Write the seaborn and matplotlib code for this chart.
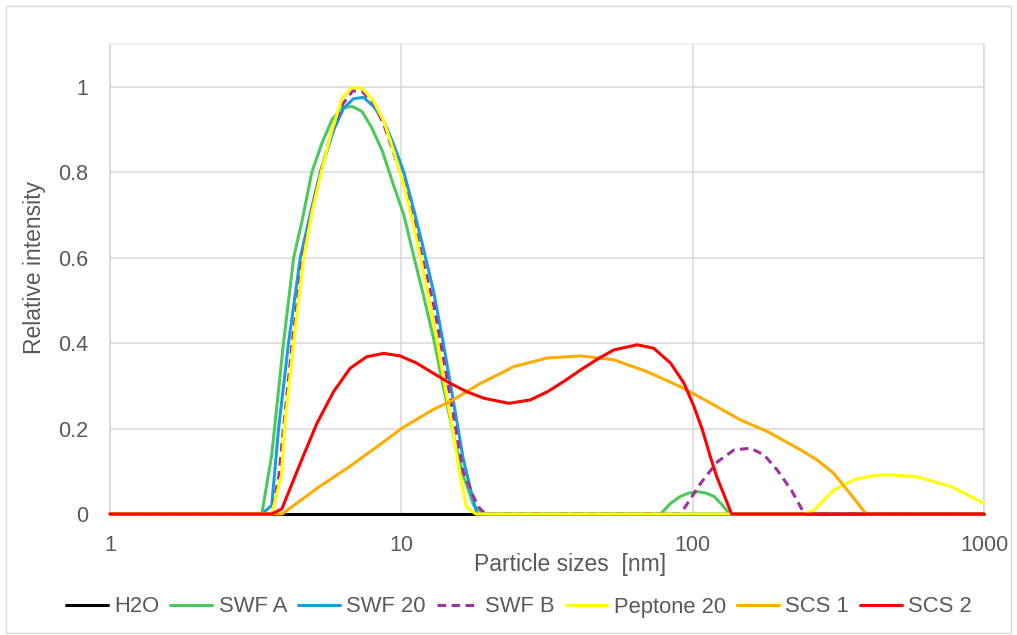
import numpy as np
import pandas as pd
import matplotlib
matplotlib.use("Agg")
import matplotlib.pyplot as plt
from matplotlib.colors import to_hex
from matplotlib.patches import Rectangle
import seaborn as sns

# Intensity-weighted size distributions (size in nm, intensity normalised)
h2o_size = [1, 1000]
h2o_int = [0, 0]

swf_a_size = [1, 3.32, 3.59, 3.94, 4.27, 4.56, 4.93, 5.34, 5.78, 6.26, 6.77, 7.33,
              7.9, 8.6, 9.4, 10.2, 11.0, 11.9, 12.9, 13.9, 15.1, 16.3, 17.7, 19.2,
              77.6, 84, 90.7, 97, 104, 111, 118.5, 126, 134, 1000]
swf_a_int = [0, 0, 0.138, 0.40, 0.60, 0.685, 0.80, 0.868, 0.923, 0.950, 0.954, 0.942,
             0.905, 0.85, 0.77, 0.70, 0.607, 0.513, 0.411, 0.302, 0.185, 0.091, 0.021, 0,
             0, 0.025, 0.041, 0.049, 0.052, 0.049, 0.041, 0.022, 0, 0]

swf_20_size = [1, 3.32, 3.59, 3.79, 4.10, 4.50, 4.90, 5.27, 5.86, 6.34, 6.85, 7.42,
               8.03, 8.72, 9.42, 10.2, 11.0, 11.9, 12.9, 13.9, 15.1, 16.3, 17.7, 18.2, 1000]
swf_20_int = [0, 0, 0.02, 0.20, 0.40, 0.60, 0.71, 0.80, 0.899, 0.950, 0.972, 0.975,
              0.954, 0.919, 0.864, 0.800, 0.716, 0.622, 0.521, 0.404, 0.263, 0.130, 0.029, 0, 0]

swf_b_size = [1, 3.59, 3.80, 3.94, 4.22, 4.58, 4.93, 5.29, 5.80, 6.30, 6.80, 7.30,
              8.03, 8.72, 9.42, 10.2, 11.0, 11.9, 12.9, 13.9, 15.1, 16.3, 17.7, 18.5, 19.4,
              90, 93.5, 106.5, 121.5, 138.7, 158, 176, 195, 218, 242, 1000]
swf_b_int = [0, 0, 0.09, 0.20, 0.40, 0.60, 0.71, 0.80, 0.90, 0.96, 0.99, 0.99,
             0.962, 0.91, 0.845, 0.775, 0.69, 0.59, 0.49, 0.37, 0.23, 0.10, 0.04, 0.015, 0,
             0, 0.013, 0.072, 0.122, 0.150, 0.154, 0.138, 0.103, 0.056, 0, 0]

peptone_size = [1, 3.59, 3.88, 3.97, 4.27, 4.62, 4.95, 5.31, 5.78, 6.26, 6.77, 7.33,
                8.03, 8.72, 9.42, 10.2, 11.0, 11.9, 12.9, 13.9, 15.1, 15.9, 16.7, 18.0,
                242, 261, 305, 357, 418, 478, 590, 772, 1000]
peptone_int = [0, 0, 0.09, 0.20, 0.40, 0.60, 0.71, 0.80, 0.898, 0.973, 0.998, 0.997,
               0.966, 0.919, 0.849, 0.770, 0.677, 0.567, 0.450, 0.326, 0.185, 0.091, 0.017, 0,
               0, 0.009, 0.056, 0.080, 0.090, 0.092, 0.087, 0.064, 0.025]

scs_1_size = [1, 3.9, 5.13, 6.67, 8.7, 10, 12.9, 14.7, 18.7, 21.9, 24.3, 31.6, 41.2,
              53.6, 69.8, 90.7, 118.5, 146, 180.6, 235, 268, 305, 347, 394, 1000]
scs_1_int = [0, 0, 0.06, 0.112, 0.169, 0.200, 0.245, 0.263, 0.306, 0.329, 0.345, 0.365, 0.370,
             0.361, 0.333, 0.298, 0.255, 0.220, 0.193, 0.150, 0.126, 0.095, 0.048, 0, 0]

scs_2_size = [1, 3.59, 3.89, 4.5, 5.13, 5.85, 6.67, 7.6, 8.7, 9.9, 11.3, 12.9, 14.7,
              16.8, 19.2, 23.4, 27.7, 31.7, 36.1, 41.2, 47, 53.6, 64.5, 73.5, 84, 93.4,
              101.1, 108, 115, 121, 127.6, 136, 1000]
scs_2_int = [0, 0, 0.012, 0.119, 0.212, 0.286, 0.341, 0.368, 0.376, 0.370, 0.353, 0.329, 0.306,
             0.286, 0.271, 0.259, 0.267, 0.286, 0.310, 0.337, 0.362, 0.384, 0.396, 0.388, 0.353, 0.306,
             0.251, 0.197, 0.134, 0.087, 0.048, 0, 0]

samples = ["H2O", "SWF A", "SWF 20", "SWF B", "Peptone 20", "SCS 1", "SCS 2"]
series = [(h2o_size, h2o_int), (swf_a_size, swf_a_int), (swf_20_size, swf_20_int),
          (swf_b_size, swf_b_int), (peptone_size, peptone_int),
          (scs_1_size, scs_1_int), (scs_2_size, scs_2_int)]

colors = ["#000000", "#4cc95a", "#1a9ddd", "#a0329f", "#ffff00", "#ffab00", "#ff0000"]
x_ticks = [1, 10, 100, 1000]
y_ticks = [0, 0.2, 0.4, 0.6, 0.8, 1.0]

frames = [pd.DataFrame({"size": s, "intensity": v, "sample": name})
          for name, (s, v) in zip(samples, series)]
df = pd.concat(frames, ignore_index=True)

sns.set_style("white")
plt.rcParams["font.family"] = ["Liberation Sans", "DejaVu Sans"]

fig = plt.figure(figsize=(10.17, 6.35), dpi=100)
ax = fig.add_axes([110 / 1017, 1 - 514 / 635, 874 / 1017, 470 / 635])

grid_c = "#d9d9d9"
ax.set_xscale("log")
ax.set_xlim(1, 1000)
ax.set_ylim(0, 1.1)
for t in x_ticks[1:]:
    ax.axvline(t, color=grid_c, lw=1.1, zorder=0)
for t in y_ticks[1:]:
    ax.axhline(t, color=grid_c, lw=1.1, zorder=0)

palette = dict(zip(samples, colors))
dashes = {name: "" for name in samples}
dashes["SWF B"] = (2.8, 1.8)

sns.lineplot(data=df, x="size", y="intensity", hue="sample", style="sample",
             hue_order=samples, style_order=samples, palette=palette, dashes=dashes,
             linewidth=2.2, errorbar=None, sort=True, ax=ax)

# later samples sit on top of earlier ones; the zero baseline is drawn in full
for ln in ax.lines:
    c = to_hex(ln.get_color())
    if c in colors and ln.get_zorder() != 0:
        ln.set_zorder(3 + colors.index(c))
        ln.set_clip_on(False)

ax.set_xticks(x_ticks)
ax.set_xticklabels([str(t) for t in x_ticks])
ax.xaxis.set_minor_locator(matplotlib.ticker.NullLocator())
ax.set_yticks(y_ticks)
ax.set_yticklabels(["0", "0.2", "0.4", "0.6", "0.8", "1"])
ax.tick_params(axis="both", length=0, labelsize=15.5, labelcolor="#595959")
ax.tick_params(axis="x", pad=15)
ax.tick_params(axis="y", pad=16)

ax.spines["left"].set_color("#cfcfcf")
ax.spines["top"].set_color("#eeeeee")
ax.spines["right"].set_color(grid_c)
ax.spines["bottom"].set_color(grid_c)
for sp in ax.spines.values():
    sp.set_linewidth(1.1)
    sp.set_zorder(1)

ax.set_xlabel("Particle sizes  [nm]", fontsize=16.5, color="#595959")
ax.set_ylabel("Relative intensity", fontsize=16.5, color="#595959")
ax.xaxis.set_label_coords(0.526, -0.082)
ax.yaxis.set_label_coords(-0.073, 0.525)

sns.move_legend(ax, "center", bbox_to_anchor=(519 / 1017, 1 - 607 / 635),
                bbox_transform=fig.transFigure, ncol=7, frameon=False, title=None,
                fontsize=15.8, handlelength=1.9, handletextpad=0.3, columnspacing=0.5,
                labelcolor="#595959")

fig.patches.append(Rectangle((6 / 1017, 2 / 635), 1005 / 1017, 627 / 635,
                             transform=fig.transFigure, fill=False,
                             edgecolor=grid_c, linewidth=1.0))

fig.savefig("out.png", dpi=100)
